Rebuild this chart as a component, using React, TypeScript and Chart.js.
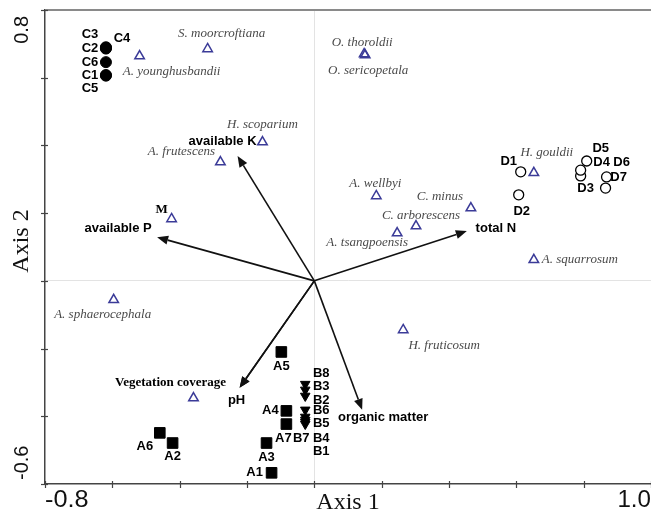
import React, { useEffect, useRef } from 'react';
import { Chart, registerables } from 'chart.js';

Chart.register(...registerables);

// ---- Data ----
const xTickLabels = ['-0.8', '1.0'];
const yTickLabels = ['-0.6', '0.8'];
const axisTitles = ['Axis 1', 'Axis 2'];

const speciesNames = ['A. younghusbandii', 'S. moorcroftiana', 'O. thoroldii', 'O. sericopetala', 'H. scoparium', 'A. frutescens', 'M', 'A. sphaerocephala', 'A. wellbyi', 'C. minus', 'C. arborescens', 'A. tsangpoensis', 'A. squarrosum', 'H. gouldii', 'H. fruticosum', ''];
const speciesX = [-0.519, -0.317, 0.148, 0.151, -0.154, -0.279, -0.424, -0.596, 0.184, 0.465, 0.302, 0.246, 0.652, 0.652, 0.264, -0.359];
const speciesY = [0.664, 0.685, 0.670, 0.667, 0.410, 0.351, 0.183, -0.056, 0.251, 0.215, 0.162, 0.141, 0.062, 0.319, -0.145, -0.346];

const groupCNames = ['C1', 'C2', 'C3', 'C4', 'C5', 'C6'];
const groupCX = [-0.619, -0.619, -0.619, -0.619, -0.619, -0.619];
const groupCY = [0.608, 0.688, 0.690, 0.686, 0.606, 0.646];

const groupANames = ['A1', 'A2', 'A3', 'A4', 'A5', 'A6', 'A7'];
const groupAX = [-0.127, -0.421, -0.142, -0.083, -0.098, -0.459, -0.083];
const groupAY = [-0.567, -0.479, -0.479, -0.384, -0.210, -0.449, -0.423];

const groupBNames = ['B1', 'B2', 'B3', 'B4', 'B5', 'B6', 'B7', 'B8'];
const groupBX = [-0.027, -0.027, -0.027, -0.027, -0.027, -0.027, -0.027, -0.027];
const groupBY = [-0.411, -0.340, -0.322, -0.417, -0.402, -0.381, -0.423, -0.305];

const groupDNames = ['D1', 'D2', 'D3', 'D4', 'D5', 'D6', 'D7'];
const groupDX = [0.613, 0.607, 0.791, 0.791, 0.809, 0.868, 0.865];
const groupDY = [0.322, 0.254, 0.310, 0.327, 0.354, 0.307, 0.274];

const arrowNames = ['available K', 'available P', 'total N', 'Vegetation coverage', 'pH', 'organic matter'];
const arrowX = [-0.228, -0.467, 0.453, -0.222, -0.222, 0.142];
const arrowY = [0.369, 0.129, 0.147, -0.316, -0.316, -0.381];

// ---- Label placement (style, pixels) ----
const speciesLabelOffsets = [[32, 16], [14, -15], [-2, -11], [3, 16], [0, -17], [-39, -10], [-10, -9], [-11, 15], [-1, -12], [-31, -11], [5, -10], [-30, 9], [46, 0], [13, -20], [41, 16], [0, 0]];
const cLabelOffsets = [[-16, 0], [-16, 1], [-16, -13], [16, -10], [-16, 13], [-16, 0]];
const aLabelOffsets = [[-17, 0], [0, 13], [0, 14], [-16, 0], [0, 14], [-15, 14], [-3, 14]];
const bLabelOffsets = [[16, 31], [16, 4], [16, -3], [16, 16], [16, 6], [16, 1], [-4, 14], [16, -11]];
const dLabelOffsets = [[-12, -10], [3, 17], [5, 13], [21, -8], [14, -13], [15, -14], [13, -11]];
const arrowLabelOffsets = [[-15, -15], [-39, -9], [29, -3], [-69, -5], [-3, 13], [21, 8]];

const SANS = '"Liberation Sans", Arial, sans-serif';
const SERIF = '"Liberation Serif", "Times New Roman", serif';

const pts = (xs: number[], ys: number[]) => xs.map((v, i) => ({ x: v, y: ys[i] }));

const labelSets = [
  { names: speciesNames, offsets: speciesLabelOffsets, font: `italic 13px ${SERIF}`, color: '#4a4a4a' },
  { names: groupCNames, offsets: cLabelOffsets, font: `bold 13px ${SANS}`, color: '#000' },
  { names: groupANames, offsets: aLabelOffsets, font: `bold 13px ${SANS}`, color: '#000' },
  { names: groupBNames, offsets: bLabelOffsets, font: `bold 13px ${SANS}`, color: '#000' },
  { names: groupDNames, offsets: dLabelOffsets, font: `bold 13px ${SANS}`, color: '#000' },
];

const overlayPlugin = {
  id: 'overlay',
  beforeDatasetsDraw(chart: any) {
    const { ctx, chartArea: a, scales } = chart;
    const xs = scales.x, ys = scales.y;
    ctx.save();
    // top frame line
    ctx.strokeStyle = '#8a8a8a';
    ctx.lineWidth = 2;
    ctx.beginPath();
    ctx.moveTo(a.left, a.top);
    ctx.lineTo(a.right, a.top);
    ctx.stroke();
    // tick marks crossing the axes
    ctx.strokeStyle = '#444';
    ctx.lineWidth = 1.2;
    xs.ticks.forEach((t: any) => {
      const px = Math.round(xs.getPixelForValue(t.value)) + 0.5;
      ctx.beginPath();
      ctx.moveTo(px, a.bottom - 3);
      ctx.lineTo(px, a.bottom + 4);
      ctx.stroke();
    });
    ys.ticks.forEach((t: any) => {
      const py = Math.round(ys.getPixelForValue(t.value)) + 0.5;
      ctx.beginPath();
      ctx.moveTo(a.left - 4, py);
      ctx.lineTo(a.left + 3, py);
      ctx.stroke();
    });
    // arrows from origin
    const ox = xs.getPixelForValue(0), oy = ys.getPixelForValue(0);
    arrowNames.forEach((_n, i) => {
      const tx = xs.getPixelForValue(arrowX[i]);
      const ty = ys.getPixelForValue(arrowY[i]);
      const ang = Math.atan2(ty - oy, tx - ox);
      const L = 11, W = 4.5;
      const bx = tx - L * Math.cos(ang), by = ty - L * Math.sin(ang);
      ctx.strokeStyle = '#111';
      ctx.fillStyle = '#111';
      ctx.lineWidth = 1.6;
      ctx.beginPath();
      ctx.moveTo(ox, oy);
      ctx.lineTo(bx, by);
      ctx.stroke();
      ctx.beginPath();
      ctx.moveTo(tx, ty);
      ctx.lineTo(bx + W * Math.sin(ang), by - W * Math.cos(ang));
      ctx.lineTo(bx - W * Math.sin(ang), by + W * Math.cos(ang));
      ctx.closePath();
      ctx.fill();
    });
    ctx.restore();
  },
  afterDatasetsDraw(chart: any) {
    const { ctx, chartArea: a, scales } = chart;
    const xs = scales.x, ys = scales.y;
    ctx.save();
    ctx.textAlign = 'center';
    ctx.textBaseline = 'middle';
    // point labels
    labelSets.forEach((set, di) => {
      const meta = chart.getDatasetMeta(di);
      meta.data.forEach((el: any, i: number) => {
        const name = set.names[i];
        if (!name) return;
        const [dx, dy] = set.offsets[i];
        if (di === 0 && name === 'M') {
          ctx.font = `bold 13px ${SERIF}`;
          ctx.fillStyle = '#000';
        } else {
          ctx.font = set.font;
          ctx.fillStyle = set.color;
        }
        ctx.fillText(name, el.x + dx, el.y + dy);
      });
    });
    // arrow labels
    arrowNames.forEach((name, i) => {
      const tx = xs.getPixelForValue(arrowX[i]);
      const ty = ys.getPixelForValue(arrowY[i]);
      const [dx, dy] = arrowLabelOffsets[i];
      ctx.font = name === 'Vegetation coverage' ? `bold 13px ${SERIF}` : `bold 13px ${SANS}`;
      ctx.fillStyle = '#000';
      ctx.fillText(name, tx + dx, ty + dy);
    });
    // tick labels at axis ends
    ctx.fillStyle = '#111';
    ctx.font = `23px ${SANS}`;
    ctx.textBaseline = 'middle';
    ctx.save();
    ctx.translate(xs.getPixelForValue(xs.min), a.bottom + 17);
    ctx.scale(1.1, 1);
    ctx.textAlign = 'left';
    ctx.fillText(xTickLabels[0], 0, 0);
    ctx.restore();
    ctx.save();
    ctx.translate(xs.getPixelForValue(xs.max), a.bottom + 17);
    ctx.scale(1.05, 1);
    ctx.textAlign = 'right';
    ctx.fillText(xTickLabels[1], 0, 0);
    ctx.restore();
    // y tick labels, rotated
    ctx.font = `20px ${SANS}`;
    ctx.save();
    ctx.translate(22, ys.getPixelForValue(ys.min));
    ctx.rotate(-Math.PI / 2);
    ctx.textAlign = 'left';
    ctx.fillText(yTickLabels[0], 4, 0);
    ctx.restore();
    ctx.save();
    ctx.translate(22, ys.getPixelForValue(ys.max));
    ctx.rotate(-Math.PI / 2);
    ctx.textAlign = 'right';
    ctx.fillText(yTickLabels[1], -6, 0);
    ctx.restore();
    // axis titles
    ctx.font = `24px ${SERIF}`;
    ctx.textAlign = 'center';
    ctx.fillText(axisTitles[0], (a.left + a.right) / 2, a.bottom + 19);
    ctx.save();
    ctx.translate(22, (a.top + a.bottom) / 2 - 6);
    ctx.rotate(-Math.PI / 2);
    ctx.fillText(axisTitles[1], 0, 0);
    ctx.restore();
    ctx.restore();
  },
};

export default function App() {
  const ref = useRef<HTMLCanvasElement | null>(null);
  useEffect(() => {
    if (!ref.current) return;
    const zeroGrid = (c: any) => (c.tick && Math.abs(c.tick.value) < 1e-9 ? '#e3e3e3' : 'rgba(0,0,0,0)');
    const chart = new Chart(ref.current, {
      type: 'scatter',
      data: {
        datasets: [
          { label: 'species', data: pts(speciesX, speciesY), pointStyle: 'triangle', pointRadius: 5.5, pointBorderColor: '#3b3b98', pointBackgroundColor: 'rgba(255,255,255,0)', pointBorderWidth: 1.5 },
          { label: 'C', data: pts(groupCX, groupCY), pointStyle: 'circle', pointRadius: 5.5, pointBorderColor: '#000', pointBackgroundColor: '#000', pointBorderWidth: 1 },
          { label: 'A', data: pts(groupAX, groupAY), pointStyle: 'rect', pointRadius: 7.5, pointBorderColor: '#000', pointBackgroundColor: '#000', pointBorderWidth: 1 },
          { label: 'B', data: pts(groupBX, groupBY), pointStyle: 'triangle', pointRotation: 180, pointRadius: 5.5, pointBorderColor: '#000', pointBackgroundColor: '#000', pointBorderWidth: 1 },
          { label: 'D', data: pts(groupDX, groupDY), pointStyle: 'circle', pointRadius: 5, pointBorderColor: '#000', pointBackgroundColor: '#fff', pointBorderWidth: 1.3 },
        ] as any,
      },
      options: {
        animation: false,
        responsive: false,
        maintainAspectRatio: false,
        events: [],
        layout: { autoPadding: false, padding: { left: 45, top: 10, right: 0, bottom: 32 } },
        plugins: { legend: { display: false }, tooltip: { enabled: false } },
        scales: {
          x: {
            type: 'linear', min: -0.8, max: 1.0,
            ticks: { display: false, stepSize: 0.2 },
            grid: { color: zeroGrid, drawTicks: false, lineWidth: 1 },
            border: { display: true, color: '#444', width: 1.5 },
          },
          y: {
            type: 'linear', min: -0.6, max: 0.8,
            ticks: { display: false, stepSize: 0.2 },
            grid: { color: zeroGrid, drawTicks: false, lineWidth: 1 },
            border: { display: true, color: '#444', width: 1.5 },
          },
        },
      } as any,
      plugins: [overlayPlugin],
    });
    return () => chart.destroy();
  }, []);
  return (
    <div style={{ position: 'absolute', left: 0, top: 0, width: 651, height: 516, background: '#fff' }}>
      <canvas ref={ref} width={651} height={516} style={{ display: 'block' }} />
    </div>
  );
}
